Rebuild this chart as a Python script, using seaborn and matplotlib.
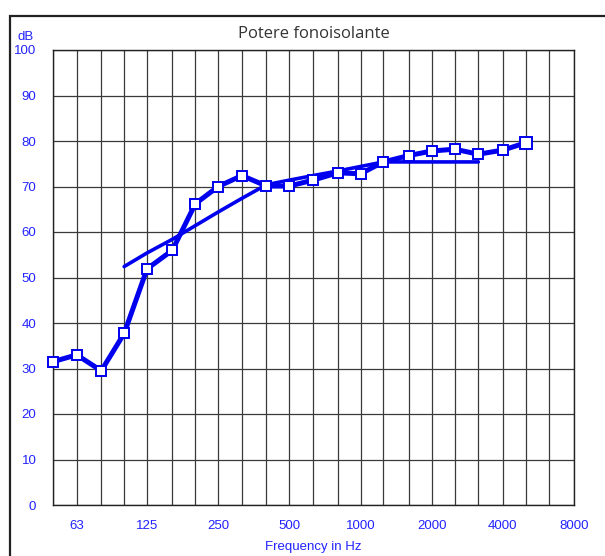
import matplotlib
matplotlib.use("Agg")
import matplotlib.pyplot as plt
from matplotlib.patches import Rectangle
import seaborn as sns
import pandas as pd

# Third-octave band centre frequencies (Hz)
freq_bands = [50, 63, 80, 100, 125, 160, 200, 250, 315, 400, 500, 630, 800,
              1000, 1250, 1600, 2000, 2500, 3150, 4000, 5000]
# Measured sound reduction index R (dB)
measured_r = [31.5, 33.0, 29.5, 37.7, 51.9, 56.0, 66.2, 70.0, 72.4, 70.1, 70.1,
              71.4, 73.0, 72.8, 75.4, 76.8, 77.8, 78.2, 77.1, 78.0, 79.6]

# Shifted reference curve, 100 Hz - 3150 Hz
ref_bands = [100, 125, 160, 200, 250, 315, 400, 500, 630, 800, 1000, 1250,
             1600, 2000, 2500, 3150]
ref_curve = [52.4, 55.4, 58.4, 61.4, 64.4, 67.4, 70.4, 71.4, 72.4, 73.4, 74.4,
             75.4, 75.4, 75.4, 75.4, 75.4]

# Grid and labels
grid_freqs = [50, 63, 80, 100, 125, 160, 200, 250, 315, 400, 500, 630, 800,
              1000, 1250, 1600, 2000, 2500, 3150, 4000, 5000, 6300, 8000]
tick_freqs = [63, 125, 250, 500, 1000, 2000, 4000, 8000]
tick_labels = ["63", "125", "250", "500", "1000", "2000", "4000", "8000"]
y_ticks = list(range(0, 101, 10))

sns.set_style("white")
plt.rcParams["font.family"] = ["Liberation Sans", "DejaVu Sans"]

BLUE = "#0000ee"
LABEL_BLUE = "#2222ff"

fig = plt.figure(figsize=(6.05, 5.56), dpi=100)
ax = fig.add_axes([53 / 605, 1 - 505 / 556, (574 - 53) / 605, (505 - 50) / 556])

# Outer frame of the panel
fig.patches.append(Rectangle((10 / 605, -0.05), 1.1, 1 - 16 / 556 + 0.05,
                             transform=fig.transFigure, fill=False,
                             edgecolor="#222222", linewidth=1.6, zorder=0))

ax.set_xscale("log")
ax.set_xlim(50, 8000)
ax.set_ylim(0, 100)

for f in grid_freqs:
    ax.axvline(f, color="#3a3a3a", linewidth=0.9, zorder=1)
for y in y_ticks:
    ax.axhline(y, color="#3a3a3a", linewidth=0.9, zorder=1)

ref_df = pd.DataFrame({"f": ref_bands, "R": ref_curve})
meas_df = pd.DataFrame({"f": freq_bands, "R": measured_r})

sns.lineplot(data=ref_df, x="f", y="R", ax=ax, color=BLUE, linewidth=2.6,
             zorder=3, legend=False)
sns.lineplot(data=meas_df, x="f", y="R", ax=ax, color=BLUE, linewidth=3.6,
             marker="s", markersize=6.8, markerfacecolor="white",
             markeredgecolor=BLUE, markeredgewidth=1.4, zorder=4, legend=False,
             clip_on=False)
# Last band drawn with a slightly larger marker
ax.plot(freq_bands[-1], measured_r[-1], marker="s", markersize=8.5,
        markerfacecolor="white", markeredgecolor=BLUE, markeredgewidth=1.4,
        linestyle="none", zorder=5, clip_on=False)

ax.set_xticks(tick_freqs)
ax.set_xticklabels(tick_labels)
ax.xaxis.set_minor_locator(matplotlib.ticker.NullLocator())
ax.set_yticks(y_ticks)
ax.tick_params(axis="both", which="major", direction="out", length=7,
               width=1, color="#222222", labelcolor=LABEL_BLUE, labelsize=9.5)
ax.tick_params(axis="x", pad=4)
ax.tick_params(axis="y", length=8, pad=4)

for s in ax.spines.values():
    s.set_color("#222222")
    s.set_linewidth(1.0)

ax.set_xlabel("Frequency in Hz", color=LABEL_BLUE, fontsize=9.5, labelpad=6)
ax.set_ylabel("")
ax.set_title("Potere fonoisolante", color="#333333", fontsize=12,
             family=["Open Sans", "DejaVu Sans"], pad=9)
fig.text(18 / 605, 1 - 37 / 556, "dB", color=LABEL_BLUE, fontsize=9.5,
         ha="left", va="center")

fig.savefig("out.png", dpi=100)
